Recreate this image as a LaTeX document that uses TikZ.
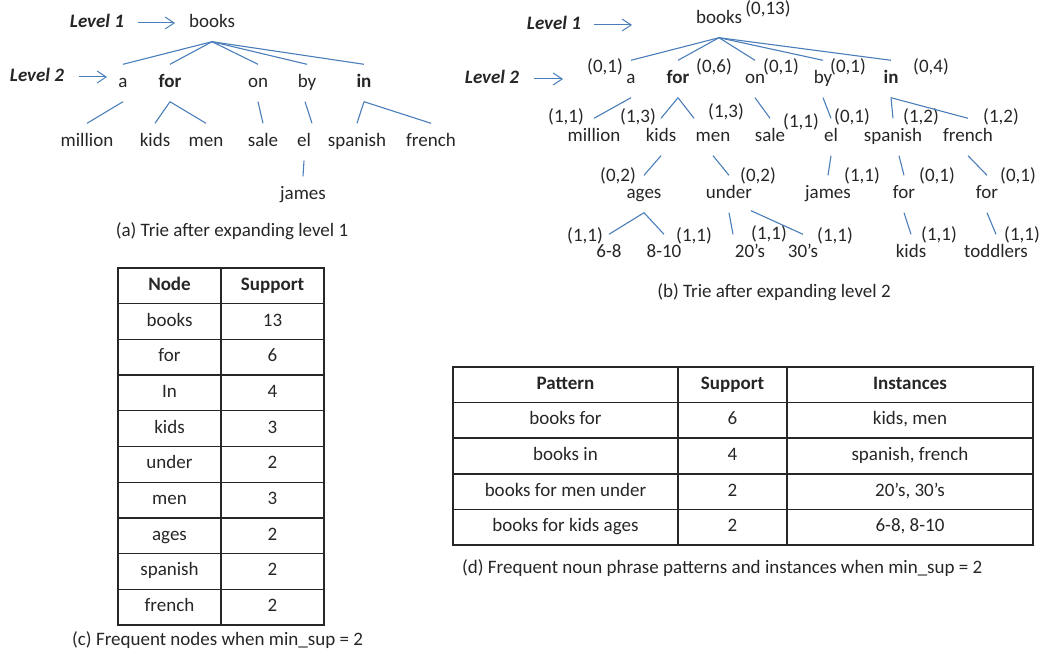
\documentclass[tikz,border=0pt]{standalone}
\usepackage{fontspec}
\setmainfont{Carlito}
\usetikzlibrary{arrows.meta}
\definecolor{lblue}{HTML}{4A7EBB}
\definecolor{txt}{HTML}{262626}
\begin{document}
\begin{tikzpicture}[x=1pt,y=-1pt,
  font=\fontsize{19}{22}\selectfont,
  every node/.style={text=txt},
  w/.style={inner xsep=0pt, inner ysep=10pt, text height=13pt, text depth=4pt},
  lab/.style={inner sep=0pt, text height=13pt, text depth=4pt},
  conn/.style={draw=lblue, line width=1.1pt},
  arr/.style={draw=lblue, line width=1pt, -{Straight Barb[length=9pt,width=12pt]}},
  cell/.style={inner sep=0pt, text height=13pt, text depth=4pt},
  grid/.style={draw=black!85, line width=1.4pt},
  lvl/.style={inner sep=0pt, text height=13pt, text depth=4pt, font=\fontsize{19}{22}\selectfont\bfseries\itshape}]
\useasboundingbox (0,0) rectangle (1045,660);

% ---------------- (a) ----------------
\node[lvl] (a-L1) at (97,23) {Level 1};
\node[lvl] (a-L2) at (37,77) {Level 2};
\coordinate (a-L1end) at (175,23);
\coordinate (a-L2end) at (107,76);

\node[w] (a-books) at (212,23) {books};
\node[w] (a-a) at (123,83) {a};
\node[w] (a-for) at (170,83) {\textbf{for}};
\node[w] (a-on) at (258,83) {on};
\node[w] (a-by) at (307,83) {by};
\node[w] (a-in) at (364,83) {\textbf{in}};
\node[w] (a-million) at (87,142) {million};
\node[w] (a-kids) at (155,142) {kids};
\node[w] (a-men) at (206,142) {men};
\node[w] (a-sale) at (263,142) {sale};
\node[w] (a-el) at (304,142) {el};
\node[w] (a-spanish) at (357,142) {spanish};
\node[w] (a-french) at (431,142) {french};
\node[w] (a-james) at (303,195) {james};

\draw[arr, shorten <=14pt] (a-L1.east) -- (a-L1.east -| a-L1end);
\draw[arr, shorten <=15pt] (a-L2.east) -- (a-L2.east -| a-L2end);

\foreach \c in {a,for,on,by,in} \draw[conn] (a-books.south) -- (a-\c.north);
\draw[conn] (a-a.south) -- (a-million.north);
\draw[conn] (a-for.south) -- (a-kids.north);
\draw[conn] (a-for.south) -- (a-men.north);
\draw[conn] (a-on.south) -- (a-sale.north);
\draw[conn] ([xshift=-2pt]a-by.south) -- ([xshift=8pt]a-el.north);
\draw[conn] (a-in.south) -- (a-spanish.north);
\draw[conn] (a-in.south) -- (a-french.north);
\draw[conn] (a-el.south) -- (a-james.north);

\node[lab] (cap-a) at (232,232) {(a) Trie after expanding level 1};

% ---------------- (b) ----------------
\node[lvl] (b-L1) at (554,25) {Level 1};
\node[lvl] (b-L2) at (492,79) {Level 2};
\coordinate (b-L1end) at (632,25);
\coordinate (b-L2end) at (563,78);
\draw[arr, shorten <=13pt] (b-L1.east) -- (b-L1.east -| b-L1end);
\draw[arr, shorten <=15pt] (b-L2.east) -- (b-L2.east -| b-L2end);

\node[w] (b-books) at (719,19) {books};
\node[w] (b-a) at (631,79) {a};
\node[w] (b-for) at (678,79) {\textbf{for}};
\node[w] (b-on) at (755,79) {on};
\node[w] (b-by) at (823,79) {by};
\node[w] (b-in) at (891,79) {\textbf{in}};
\node[w] (b-million) at (594,137) {million};
\node[w] (b-kids) at (661,137) {kids};
\node[w] (b-men) at (713,137) {men};
\node[w] (b-sale) at (770,137) {sale};
\node[w] (b-el) at (831,137) {el};
\node[w] (b-spanish) at (893,137) {spanish};
\node[w] (b-french) at (968,137) {french};
\node[w] (b-ages) at (644,194) {ages};
\node[w] (b-under) at (729,194) {under};
\node[w] (b-james) at (828,194) {james};
\node[w] (b-for2) at (904,194) {for};
\node[w] (b-for3) at (987,194) {for};
\node[w] (b-68) at (609,253) {6-8};
\node[w] (b-810) at (664,253) {8-10};
\node[w] (b-20s) at (750,253) {20’s};
\node[w] (b-30s) at (803,253) {30’s};
\node[w] (b-kids2) at (911,253) {kids};
\node[w] (b-toddlers) at (996,253) {toddlers};

% support labels
\node[lab] (s-books) at (768,10) {(0,13)};
\node[lab] (s-a) at (605,68) {(0,1)};
\node[lab] (s-for) at (714,68) {(0,6)};
\node[lab] (s-on) at (781,68) {(0,1)};
\node[lab] (s-by) at (848,68) {(0,1)};
\node[lab] (s-in) at (931,68) {(0,4)};
\node[lab] (s-million) at (566,118) {(1,1)};
\node[lab] (s-kids) at (638,118) {(1,3)};
\node[lab] (s-men) at (726,113) {(1,3)};
\node[lab] (s-sale) at (801,123) {(1,1)};
\node[lab] (s-el) at (852,118) {(0,1)};
\node[lab] (s-spanish) at (921,118) {(1,2)};
\node[lab] (s-french) at (1001,118) {(1,2)};
\node[lab] (s-ages) at (618,177) {(0,2)};
\node[lab] (s-under) at (758,177) {(0,2)};
\node[lab] (s-james) at (862,177) {(1,1)};
\node[lab] (s-for2) at (937,177) {(0,1)};
\node[lab] (s-for3) at (1018,177) {(0,1)};
\node[lab] (s-68) at (585,237) {(1,1)};
\node[lab] (s-810) at (694,237) {(1,1)};
\node[lab] (s-20s) at (769,235) {(1,1)};
\node[lab] (s-30s) at (835,237) {(1,1)};
\node[lab] (s-kids2) at (939,236) {(1,1)};
\node[lab] (s-toddlers) at (1022,236) {(1,1)};

\foreach \c in {a,for,on,by,in} \draw[conn] (b-books.south) -- (b-\c.north);
\draw[conn] (b-a.south) -- (b-million.north);
\draw[conn] (b-for.south) -- (b-kids.north);
\draw[conn] (b-for.south) -- ([xshift=-19pt]b-men.north);
\draw[conn] (b-on.south) -- (b-sale.north);
\draw[conn] (b-by.south) -- (b-el.north);
\draw[conn] (b-in.south) -- (b-spanish.north);
\draw[conn] (b-in.south) -- (b-french.north);
\draw[conn] (b-kids.south) -- (b-ages.north);
\draw[conn] (b-men.south) -- (b-under.north);
\draw[conn] (b-el.south) -- (b-james.north);
\draw[conn] ([xshift=6pt]b-spanish.south) -- (b-for2.north);
\draw[conn] (b-french.south) -- (b-for3.north);
\draw[conn] (b-ages.south) -- (b-68.north);
\draw[conn] (b-ages.south) -- (b-810.north);
\draw[conn] (b-under.south) -- ([xshift=-17pt]b-20s.north);
\draw[conn] ([xshift=22pt,yshift=2pt]b-under.south) -- (b-30s.north);
\draw[conn] (b-for2.south) -- (b-kids2.north);
\draw[conn] (b-for3.south) -- (b-toddlers.north);

\node[lab] (cap-b) at (774,293) {(b) Trie after expanding level 2};

% ---------------- (c) table ----------------
\foreach \n/\s [count=\i from 0] in {\textbf{Node}/\textbf{Support},books/13,for/6,In/4,kids/3,under/2,men/3,ages/2,spanish/2,french/2} {
  \node[cell] (c-\i-n) at (169.5,{268+35.7*\i+17.85}) {\n};
  \node[cell] (c-\i-s) at (272.5,{268+35.7*\i+17.85}) {\s};
}
\draw[grid] (118,268) rectangle (324,625);
\draw[grid] (221,268) -- (221,625);
\foreach \i in {1,...,9} \draw[grid] (118,{268+35.7*\i}) -- (324,{268+35.7*\i});
\node[lab, anchor=west] (cap-c) at (72,641) {(c) Frequent nodes when min\_sup = 2};

% ---------------- (d) table ----------------
\foreach \p/\s/\t [count=\i from 0] in {\textbf{Pattern}/\textbf{Support}/\textbf{Instances},books for/6/{kids, men},books in/4/{spanish, french},books for men under/2/{20’s, 30’s},books for kids ages/2/{6-8, 8-10}} {
  \node[cell] (d-\i-p) at (565.5,{367+35.6*\i+17.8}) {\p};
  \node[cell] (d-\i-s) at (732.5,{367+35.6*\i+17.8}) {\s};
  \node[cell] (d-\i-t) at (910,{367+35.6*\i+17.8}) {\t};
}
\draw[grid] (453,367) rectangle (1033,545);
\draw[grid] (678,367) -- (678,545);
\draw[grid] (787,367) -- (787,545);
\foreach \i in {1,...,4} \draw[grid] (453,{367+35.6*\i}) -- (1033,{367+35.6*\i});
\node[lab, anchor=west] (cap-d) at (462,569) {(d) Frequent noun phrase patterns and instances when min\_sup = 2};
\end{tikzpicture}
\end{document}
